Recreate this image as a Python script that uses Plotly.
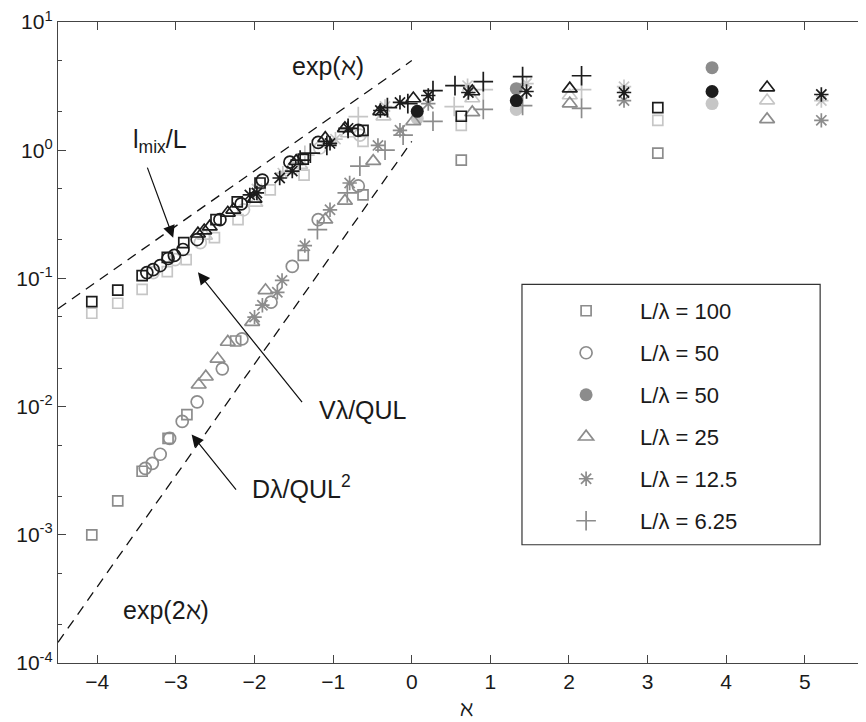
import plotly.graph_objects as go

# ---------------- data (x = aleph) ----------------
# K = black (l_mix/L), G = light grey (V lambda/QUL), M = mid grey (D lambda/QUL^2)
sq_k_x = [-4.07, -3.74, -3.43, -3.11, -2.90, -2.49, -2.22, -1.93, -1.38, -0.62, 0.63, 3.13]
sq_k_y = [0.066, 0.081, 0.105, 0.146, 0.190, 0.287, 0.395, 0.555, 0.851, 1.43, 1.84, 2.15]
sq_g_x = [-4.07, -3.74, -3.43, -3.11, -2.87, -2.51, -2.21, -1.80, -1.37, -0.62, 0.63, 3.13]
sq_g_y = [0.0535, 0.064, 0.082, 0.113, 0.140, 0.208, 0.287, 0.490, 0.640, 1.17, 1.56, 1.71]
sq_m_x = [-4.07, -3.74, -3.43, -3.10, -2.86, -2.24, -1.38, -0.62, 0.63, 3.13]
sq_m_y = [0.00100, 0.00184, 0.00313, 0.00565, 0.00867, 0.0325, 0.151, 0.448, 0.836, 0.948]

ci_k_x = [-3.37, -3.29, -3.20, -3.10, -3.02, -2.91, -2.73, -2.44, -2.17, -1.90, -1.55, -1.19, -0.68]
ci_k_y = [0.111, 0.117, 0.126, 0.143, 0.151, 0.168, 0.201, 0.287, 0.381, 0.585, 0.807, 1.15, 1.43]
ci_g_x = [-3.29, -3.01, -2.69, -2.14, -1.51, -1.17, -0.66]
ci_g_y = [0.111, 0.140, 0.190, 0.343, 0.725, 1.04, 1.31]
ci_m_x = [-3.39, -3.30, -3.20, -3.08, -2.92, -2.73, -2.41, -2.16, -1.79, -1.52, -1.19, -0.68]
ci_m_y = [0.00330, 0.00361, 0.00425, 0.00565, 0.00766, 0.0109, 0.0197, 0.0337, 0.0652, 0.124, 0.287, 0.526]

fc_k_x = [0.07, 1.33, 3.82]
fc_k_y = [2.01, 2.44, 2.87]
fc_g_x = [0.07, 1.33, 3.82]
fc_g_y = [1.77, 2.08, 2.31]
fc_m_x = [1.33, 3.82]
fc_m_y = [3.02, 4.40]

tr_k_x = [-2.72, -2.64, -2.57, -2.34, -2.27, -2.00, -1.47, -1.10, -0.85, -0.40, 0.02, 0.77, 2.01, 4.52]
tr_k_y = [0.223, 0.236, 0.253, 0.325, 0.343, 0.417, 0.822, 1.24, 1.48, 2.01, 2.53, 2.87, 3.02, 3.08]
tr_g_x = [-2.63, -1.99, -1.42, -0.81, -0.36, 0.77, 2.01, 4.52]
tr_g_y = [0.215, 0.388, 0.765, 1.35, 1.83, 2.53, 2.67, 2.44]
tr_m_x = [-2.71, -2.62, -2.47, -2.34, -2.03, -1.86, -1.10, -0.85, -0.49, 0.02, 0.77, 2.01, 4.52]
tr_m_y = [0.0148, 0.0171, 0.0236, 0.0319, 0.0456, 0.0807, 0.287, 0.402, 0.822, 1.68, 1.97, 2.31, 1.74]

as_k_x = [-2.06, -1.97, -1.68, -1.52, -1.04, -0.81, -0.40, -0.15, 0.21, 0.72, 1.46, 2.70, 5.21]
as_k_y = [0.448, 0.464, 0.607, 0.687, 1.13, 1.48, 2.04, 2.36, 2.67, 2.82, 2.87, 2.82, 2.72]
as_g_x = [-1.97, -1.64, -0.97, -0.34, 0.71, 1.46, 2.70, 5.21]
as_g_y = [0.499, 0.663, 1.22, 2.19, 3.19, 3.31, 3.13, 2.44]
as_m_x = [-2.00, -1.90, -1.71, -1.65, -1.36, -1.04, -0.79, -0.43, -0.15, 0.21, 2.70, 5.21]
as_m_y = [0.0499, 0.0618, 0.0779, 0.0965, 0.180, 0.343, 0.555, 1.09, 1.43, 2.31, 2.44, 1.71]

pl_k_x = [-1.42, -1.29, -1.08, -0.81, -0.31, -0.05, 0.27, 0.55, 0.91, 1.41, 2.16]
pl_k_y = [0.836, 0.948, 1.09, 1.48, 2.15, 2.31, 2.92, 3.19, 3.43, 3.75, 3.81]
pl_g_x = [-1.36, -0.68, 0.54, 0.91, 2.16]
pl_g_y = [0.914, 1.83, 2.19, 2.97, 2.97]
pl_m_x = [-1.20, -0.82, -0.66, -0.34, -0.11, 0.27, 0.91, 1.41, 2.16]
pl_m_y = [0.240, 0.464, 0.751, 1.00, 1.31, 1.68, 2.08, 2.23, 2.12]

# reference curves exp(aleph) and exp(2 aleph), end points
exp1_x = [-4.5, 0.0]
exp1_y = [0.058, 5.0]
exp2_x = [-4.5, 0.0]
exp2_y = [0.000145, 1.17]

legend_names = ["L/λ = 100", "L/λ = 50", "L/λ = 50", "L/λ = 25", "L/λ = 12.5", "L/λ = 6.25"]

# ---------------- styling ----------------
K = "#1c1c1c"
G = "#c6c6c6"
M = "#8c8c8c"
FONT = "Liberation Sans, Arial, sans-serif"

series = [
    ("square-open", 10, (sq_k_x, sq_k_y), (sq_g_x, sq_g_y), (sq_m_x, sq_m_y)),
    ("circle-open", 12, (ci_k_x, ci_k_y), (ci_g_x, ci_g_y), (ci_m_x, ci_m_y)),
    ("circle", 13, (fc_k_x, fc_k_y), (fc_g_x, fc_g_y), (fc_m_x, fc_m_y)),
    ("triangle-up-open", 13, (tr_k_x, tr_k_y), (tr_g_x, tr_g_y), (tr_m_x, tr_m_y)),
    ("asterisk-open", 12, (as_k_x, as_k_y), (as_g_x, as_g_y), (as_m_x, as_m_y)),
    ("cross-thin-open", 14, (pl_k_x, pl_k_y), (pl_g_x, pl_g_y), (pl_m_x, pl_m_y)),
]

fig = go.Figure()

fig.add_trace(go.Scatter(x=exp1_x, y=exp1_y, mode="lines", showlegend=False,
                         line=dict(color="#111", width=1.3, dash="10px,7px"), hoverinfo="skip"))
fig.add_trace(go.Scatter(x=exp2_x, y=exp2_y, mode="lines", showlegend=False,
                         line=dict(color="#111", width=1.3, dash="10px,7px"), hoverinfo="skip"))

def marker(sym, size, color):
    if sym == "circle":
        return dict(symbol=sym, size=size, color=color, line=dict(width=0))
    return dict(symbol=sym, size=size, color=color, line=dict(color=color, width=1.7))

# light grey first, then mid grey, black on top
for i, (sym, size, k, g, m) in enumerate(series):
    fig.add_trace(go.Scatter(x=g[0], y=g[1], mode="markers", showlegend=False,
                             marker=marker(sym, size, G)))
for i, (sym, size, k, g, m) in enumerate(series):
    fig.add_trace(go.Scatter(x=m[0], y=m[1], mode="markers", name=legend_names[i],
                             legendgroup="g%d" % i, legendrank=i + 1,
                             marker=marker(sym, size, M)))
for i, (sym, size, k, g, m) in enumerate(series):
    fig.add_trace(go.Scatter(x=k[0], y=k[1], mode="markers", showlegend=False,
                             marker=marker(sym, size, K)))

ann_font = dict(family=FONT, size=25, color="#1a1a1a")
arrow = dict(text="", showarrow=True, arrowhead=2, arrowsize=2.0, arrowwidth=1.2,
             arrowcolor="#111", axref="x", ayref="y")
annotations = [
    dict(x=-1.065, y=0.659, text="exp(ℵ)", showarrow=False, font=ann_font),
    dict(x=-3.126, y=-3.589, text="exp(2ℵ)", showarrow=False, font=ann_font),
    dict(x=-3.20, y=0.07, text="l<sub>mix</sub>/L", showarrow=False, font=ann_font),
    dict(x=-0.62, y=-2.03, text="Vλ/QUL", showarrow=False, font=ann_font),
    dict(x=-1.40, y=-2.63, text="Dλ/QUL<sup>2</sup>", showarrow=False, font=ann_font),
    dict(x=-3.035, y=-0.682, ax=-3.37, ay=-0.124, **arrow),
    dict(x=-2.72, y=-0.953, ax=-1.38, ay=-1.977, **arrow),
    dict(x=-2.80, y=-2.217, ax=-2.22, ay=-2.659, **arrow),
]
for a in annotations:
    a.setdefault("xref", "x")
    a.setdefault("yref", "y")

ytick_vals = [1e-4, 1e-3, 1e-2, 1e-1, 1e0, 1e1]
ytick_text = ["10<sup>-4</sup>", "10<sup>-3</sup>", "10<sup>-2</sup>", "10<sup>-1</sup>",
              "10<sup>0</sup>", "10<sup>1</sup>"]
xtick_vals = [-4, -3, -2, -1, 0, 1, 2, 3, 4, 5]
xtick_text = ["−4", "−3", "−2", "−1", "0", "1", "2", "3", "4", "5"]

fig.update_layout(
    width=866, height=722,
    margin=dict(l=50, r=0, t=10, b=67),
    paper_bgcolor="white", plot_bgcolor="white",
    font=dict(family=FONT, size=21, color="#1a1a1a"),
    annotations=annotations,
    showlegend=True,
    legend=dict(x=0.581, y=0.582, xanchor="left", yanchor="top",
                bgcolor="rgba(0,0,0,0)", borderwidth=0,
                font=dict(family=FONT, size=22, color="#1a1a1a"),
                tracegroupgap=10.4, itemwidth=98),
    shapes=[dict(type="rect", xref="paper", yref="paper",
                 x0=0.5686, x1=0.934, y0=0.1845, y1=0.5907,
                 line=dict(color="#333", width=1.2), fillcolor="rgba(0,0,0,0)")],
)

fig.update_xaxes(range=[-4.50, 5.88], tickvals=xtick_vals, ticktext=xtick_text,
                 showline=True, linecolor="#444", linewidth=1.3, mirror="allticks",
                 ticks="inside", ticklen=8, tickcolor="#444", showgrid=False, zeroline=False,
                 ticklabeloverflow="allow",
                 title=dict(text="ℵ", font=dict(family="DejaVu Serif", size=22), standoff=8))
fig.update_yaxes(type="log", range=[-4, 1], tickvals=ytick_vals, ticktext=ytick_text,
                 showline=True, linecolor="#444", linewidth=1.3, mirror=False,
                 ticks="inside", ticklen=8, tickcolor="#444", showgrid=False, zeroline=False,
                 ticklabeloverflow="allow",
                 minor=dict(ticks="inside", ticklen=4, tickcolor="#444", showgrid=False))

fig.write_html("out.html")
